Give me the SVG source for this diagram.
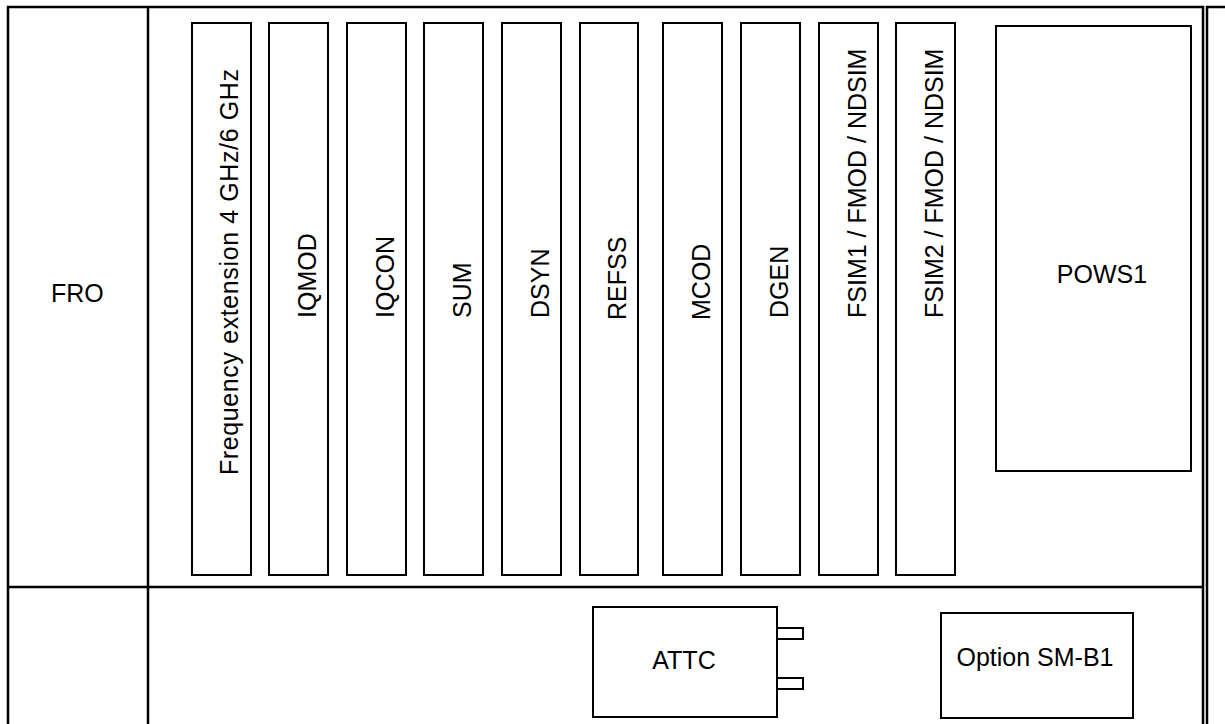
<svg xmlns="http://www.w3.org/2000/svg" width="1225" height="724" viewBox="0 0 1225 724">
<style>
.ln{stroke:#000;stroke-width:2.5;fill:none}
.bx{stroke:#000;stroke-width:2;fill:#fff}
.t{font-family:"Liberation Sans",Arial,sans-serif;font-size:25px;fill:#000}
</style>
<rect width="1225" height="724" fill="#fff"/>
<g id="frame">
<path class="ln" d="M8,724 V7 H1203 V724"/>
<path class="ln" d="M1207,724 V7 H1225"/>
<path class="ln" d="M148,7 V724"/>
<path class="ln" d="M8,587 H1203"/>
</g>
<g id="FRO"><text class="t" x="51" y="302">FRO</text></g>
<g id="slot-freq"><rect class="bx" x="192" y="23" width="59" height="552"/><text class="t" transform="translate(238,475) rotate(-90)" textLength="406" lengthAdjust="spacing">Frequency extension 4 GHz/6 GHz</text></g>
<g id="slot-iqmod"><rect class="bx" x="269" y="23" width="59" height="552"/><text class="t" transform="translate(316,318) rotate(-90)">IQMOD</text></g>
<g id="slot-iqcon"><rect class="bx" x="347" y="23" width="59" height="552"/><text class="t" transform="translate(394,318) rotate(-90)">IQCON</text></g>
<g id="slot-sum"><rect class="bx" x="424" y="23" width="59" height="552"/><text class="t" transform="translate(471,318) rotate(-90)">SUM</text></g>
<g id="slot-dsyn"><rect class="bx" x="502" y="23" width="59" height="552"/><text class="t" transform="translate(549,318) rotate(-90)">DSYN</text></g>
<g id="slot-refss"><rect class="bx" x="580" y="23" width="58" height="552"/><text class="t" transform="translate(626,320) rotate(-90)">REFSS</text></g>
<g id="slot-mcod"><rect class="bx" x="663" y="23" width="59" height="552"/><text class="t" transform="translate(710,320) rotate(-90)">MCOD</text></g>
<g id="slot-dgen"><rect class="bx" x="741" y="23" width="59" height="552"/><text class="t" transform="translate(788,318) rotate(-90)">DGEN</text></g>
<g id="slot-fsim1"><rect class="bx" x="819" y="23" width="59" height="552"/><text class="t" transform="translate(866,318) rotate(-90)">FSIM1 / FMOD / NDSIM</text></g>
<g id="slot-fsim2"><rect class="bx" x="896" y="23" width="59" height="552"/><text class="t" transform="translate(943,318) rotate(-90)">FSIM2 / FMOD / NDSIM</text></g>
<g id="POWS1"><rect class="bx" x="996" y="26" width="195" height="445"/><text class="t" x="1102" y="283" text-anchor="middle">POWS1</text></g>
<g id="ATTC">
<rect class="bx" x="777" y="628" width="26" height="11"/>
<rect class="bx" x="777" y="678" width="26" height="11"/>
<rect class="bx" x="593" y="607" width="184" height="110"/>
<text class="t" x="684" y="669" text-anchor="middle">ATTC</text>
</g>
<g id="SM-B1"><rect class="bx" x="941" y="613" width="192" height="105"/><text class="t" x="1035" y="666" text-anchor="middle">Option SM-B1</text></g>
<g id="connectors"/>
</svg>
